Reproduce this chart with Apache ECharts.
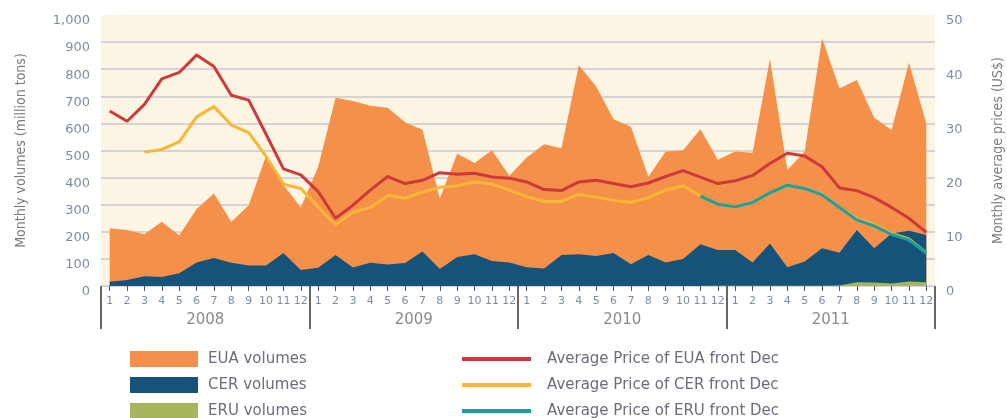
<!DOCTYPE html>
<html>
<head>
<meta charset="utf-8">
<script src="https://cdn.jsdelivr.net/npm/echarts@6/dist/echarts.min.js"></script>
<style>
html,body{margin:0;padding:0;background:#ffffff;}
#chart{width:1007px;height:418px;}
</style>
</head>
<body>
<div id="chart"></div>
<script>
// ---- Data ----
var years = ['2008', '2009', '2010', '2011'];
var monthLabels = ['1','2','3','4','5','6','7','8','9','10','11','12'];
var categories = [];
years.forEach(function (y) { monthLabels.forEach(function (m) { categories.push(y + '-' + m); }); });

var euaVolumes = [
  213, 207, 191, 237, 186, 284, 341, 236, 298, 481, 373, 290,
  440, 695, 683, 665, 658, 604, 577, 323, 488, 454, 501, 407,
  474, 523, 508, 815, 736, 615, 588, 403, 496, 501, 578, 466,
  496, 492, 838, 428, 496, 914, 729, 760, 621, 576, 825, 600
];
var cerVolumes = [
  16, 22, 36, 33, 47, 87, 103, 86, 76, 76, 122, 59,
  67, 114, 68, 86, 79, 85, 127, 63, 107, 117, 92, 87,
  69, 65, 114, 117, 111, 122, 80, 114, 87, 100, 154, 133,
  133, 87, 157, 69, 90, 139, 123, 207, 139, 194, 204, 188
];
var eruVolumes = [
  null, null, null, null, null, null, null, null, null, null, null, null,
  null, null, null, null, null, null, null, null, null, null, null, null,
  null, null, null, null, null, null, null, null, null, null, 1, 1,
  1, 1, 1, 1, 1, 1, 2, 14, 13, 9, 17, 14
];
var euaPrice = [
  32.3, 30.4, 33.5, 38.2, 39.4, 42.6, 40.5, 35.2, 34.3, 28.0, 21.6, 20.5,
  17.4, 12.5, 14.9, 17.7, 20.2, 18.9, 19.5, 20.9, 20.6, 20.8, 20.1, 19.9,
  19.2, 17.8, 17.6, 19.2, 19.5, 18.9, 18.3, 19.0, 20.2, 21.3, 20.1, 18.9,
  19.4, 20.4, 22.6, 24.5, 24.0, 22.0, 18.1, 17.6, 16.3, 14.5, 12.5, 9.9
];
var cerPrice = [
  null, null, 24.7, 25.2, 26.6, 31.2, 33.1, 29.7, 28.3, 23.9, 18.8, 18.0,
  14.6, 11.3, 13.6, 14.5, 16.7, 16.2, 17.3, 18.2, 18.5, 19.2, 18.8, 17.7,
  16.5, 15.6, 15.6, 16.9, 16.4, 15.8, 15.4, 16.3, 17.7, 18.5, 16.6, 15.1,
  14.6, 15.4, 17.2, 18.6, 18.0, 16.8, 14.5, 12.4, 11.3, 9.7, 8.7, 6.1
];
var eruPrice = [
  null, null, null, null, null, null, null, null, null, null, null, null,
  null, null, null, null, null, null, null, null, null, null, null, null,
  null, null, null, null, null, null, null, null, null, null, 16.6, 15.1,
  14.6, 15.4, 17.2, 18.6, 18.0, 16.8, 14.5, 12.2, 11.1, 9.5, 8.5, 6.1
];
var volumeTicks = { min: 0, max: 1000, interval: 100 };
var priceTicks = { min: 0, max: 50, interval: 10 };
var areaNames = ['EUA volumes', 'CER volumes', 'ERU volumes'];
var lineNames = ['Average Price of EUA front Dec', 'Average Price of CER front Dec', 'Average Price of ERU front Dec'];

// ---- Styles ----
var C = {
  eua: '#f4904a', cer: '#15537a', eru: '#a9b55c',
  euaP: '#cc3a3c', cerP: '#fbb534', eruP: '#19a19c',
  bg: '#fdf5e3', grid: '#c9c9cc', tick: '#7d8ca3', txt: '#6c6c7c'
};
var WIDE = "'DejaVu Sans', Verdana, sans-serif";
var NARROW = "'Liberation Sans Narrow', 'DejaVu Sans Condensed', sans-serif";

var gridColors = [];
for (var i = 0; i <= 10; i++) gridColors.push(i === 10 ? 'rgba(0,0,0,0)' : C.grid);

function fmtThousands(v) { return String(v).replace(/\B(?=(\d{3})+(?!\d))/g, ','); }

function areaSeries(name, data, color) {
  return {
    name: name, type: 'line', data: data, yAxisIndex: 0,
    symbol: 'none', smooth: false, connectNulls: false,
    lineStyle: { width: 0, color: color },
    itemStyle: { color: color },
    areaStyle: { color: color, opacity: 1 },
    emphasis: { disabled: true }, silent: true, animation: false
  };
}
function lineSeries(name, data, color, w) {
  return {
    name: name, type: 'line', data: data, yAxisIndex: 1,
    symbol: 'none', smooth: false,
    lineStyle: { width: w, color: color, join: 'round' },
    itemStyle: { color: color },
    emphasis: { disabled: true }, silent: true, animation: false
  };
}

var legends = [];
var legendTops = [345, 371, 397];
areaNames.forEach(function (n, k) {
  legends.push({
    data: [n], left: 125, top: legendTops[k], icon: 'rect',
    itemWidth: 68, itemHeight: 16, selectedMode: false,
    textStyle: { fontFamily: WIDE, fontSize: 15, color: C.txt, lineHeight: 18, padding: [0, 0, 0, 5] }
  });
});
lineNames.forEach(function (n, k) {
  legends.push({
    data: [n], left: 457, top: legendTops[k], icon: 'rect',
    itemWidth: 69, itemHeight: 4, selectedMode: false,
    textStyle: { fontFamily: WIDE, fontSize: 15, color: C.txt, lineHeight: 18, padding: [0, 0, 0, 11] }
  });
});

var chart = echarts.init(document.getElementById('chart'), null, { renderer: 'canvas' });
chart.setOption({
  animation: false,
  backgroundColor: '#ffffff',
  grid: {
    left: 101, right: 72, top: 15, bottom: 132, show: true, backgroundColor: C.bg, borderWidth: 0,
    containLabel: false, outerBoundsMode: 'none'
  },
  legend: legends,
  xAxis: [
    {
      type: 'category', data: categories, boundaryGap: true, position: 'bottom',
      axisLine: { show: false },
      axisTick: { show: true, alignWithLabel: true, length: 5, lineStyle: { color: '#555', width: 1 } },
      axisLabel: {
        interval: 0, margin: 10, fontFamily: WIDE, fontSize: 11, color: C.tick,
        formatter: function (v, i) { return monthLabels[i % 12]; }
      },
      splitLine: { show: false }
    },
    {
      type: 'category', data: years, boundaryGap: true, position: 'bottom',
      axisLine: { show: false },
      axisTick: { show: true, interval: 0, length: 43, lineStyle: { color: '#333', width: 1.5 } },
      axisLabel: { interval: 0, margin: 27, fontFamily: WIDE, fontSize: 15, color: '#8a8a8a' },
      splitLine: { show: false }
    }
  ],
  yAxis: [
    {
      type: 'value', min: volumeTicks.min, max: volumeTicks.max, interval: volumeTicks.interval,
      name: 'Monthly volumes (million tons)', nameLocation: 'middle', nameRotate: 90, nameGap: 73,
      nameTextStyle: { fontFamily: NARROW, fontSize: 14, color: '#7a7a7a' },
      axisLine: { show: false }, axisTick: { show: false },
      axisLabel: { margin: 11, fontFamily: WIDE, fontSize: 13, color: C.tick, verticalAlign: 'top', lineHeight: 12, formatter: fmtThousands },
      splitLine: { show: true, lineStyle: { color: gridColors, width: 1.5 } }
    },
    {
      type: 'value', min: priceTicks.min, max: priceTicks.max, interval: priceTicks.interval,
      position: 'right',
      name: 'Monthly average prices (US$)', nameLocation: 'middle', nameRotate: 90, nameGap: 56,
      nameTextStyle: { fontFamily: NARROW, fontSize: 14, color: '#7a7a7a' },
      axisLine: { show: false }, axisTick: { show: false },
      axisLabel: { margin: 11, fontFamily: WIDE, fontSize: 13, color: C.tick, verticalAlign: 'top', lineHeight: 12 },
      splitLine: { show: false }
    }
  ],
  series: [
    areaSeries(areaNames[0], euaVolumes, C.eua),
    areaSeries(areaNames[1], cerVolumes, C.cer),
    areaSeries(areaNames[2], eruVolumes, C.eru),
    lineSeries(lineNames[0], euaPrice, C.euaP, 3),
    lineSeries(lineNames[1], cerPrice, C.cerP, 3),
    lineSeries(lineNames[2], eruPrice, C.eruP, 3)
  ]
});
</script>
</body>
</html>
